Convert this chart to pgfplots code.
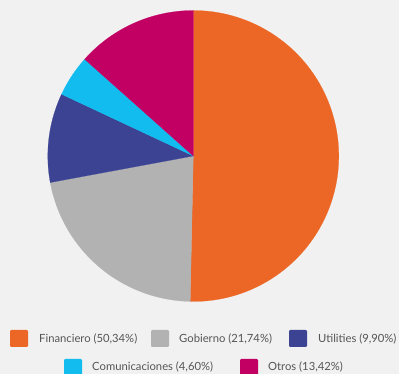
\documentclass[border=0pt]{standalone}
\usepackage{pgfplots}
\pgfplotsset{compat=1.18}
\usepackage{fontspec}
\setmainfont{Lato}
\definecolor{bg}{HTML}{F1F1F1}
\definecolor{cFin}{HTML}{EC6625}
\definecolor{cGob}{HTML}{B2B2B2}
\definecolor{cUti}{HTML}{3C4393}
\definecolor{cCom}{HTML}{12BCEE}
\definecolor{cOtr}{HTML}{C20064}
\definecolor{txt}{HTML}{555555}
% data (percent)
\def\vFin{50.34}
\def\vGob{21.74}
\def\vUti{9.90}
\def\vCom{4.60}
\def\vOtr{13.42}
\pgfmathsetmacro\aA{90}
\pgfmathsetmacro\aB{\aA-3.6*\vFin}
\pgfmathsetmacro\aC{\aB-3.6*\vGob}
\pgfmathsetmacro\aD{\aC-3.6*\vUti}
\pgfmathsetmacro\aE{\aD-3.6*\vCom}
\pgfmathsetmacro\aF{\aE-3.6*\vOtr}
\begin{document}
\begin{tikzpicture}[x=1bp,y=1bp]
\fill[bg] (0,0) rectangle (399,374);
\useasboundingbox (0,0) rectangle (399,374);
\begin{axis}[
  scale only axis, width=291bp, height=291bp,
  at={(47.8bp,72.5bp)}, anchor=south west,
  xmin=-1, xmax=1, ymin=-1, ymax=1,
  hide axis, clip=false]
\addplot[fill=cFin, draw=cFin, line width=0.2pt, domain=\aA:\aB, samples=120] ({cos(x)},{sin(x)}) -- (0,0) -- cycle;
\addplot[fill=cGob, draw=cGob, line width=0.2pt, domain=\aB:\aC, samples=60] ({cos(x)},{sin(x)}) -- (0,0) -- cycle;
\addplot[fill=cUti, draw=cUti, line width=0.2pt, domain=\aC:\aD, samples=40] ({cos(x)},{sin(x)}) -- (0,0) -- cycle;
\addplot[fill=cCom, draw=cCom, line width=0.2pt, domain=\aD:\aE, samples=20] ({cos(x)},{sin(x)}) -- (0,0) -- cycle;
\addplot[fill=cOtr, draw=cOtr, line width=0.2pt, domain=\aE:\aF, samples=40] ({cos(x)},{sin(x)}) -- (0,0) -- cycle;
\end{axis}
\tikzset{sw/.style={rounded corners=1.2bp}, lt/.style={anchor=west, text=txt, font=\fontsize{11.3}{13}\selectfont, inner sep=0pt}}
% row 1
\fill[cFin, sw] (10,27) rectangle (28,44);
\node[lt] at (39,35.5) {Financiero (50,34\%)};
\fill[cGob, sw] (151,27) rectangle (169,44);
\node[lt] at (179,35.5) {Gobierno (21,74\%)};
\fill[cUti, sw] (289,27) rectangle (307,44);
\node[lt] at (318,35.5) {Utilities (9,90\%)};
% row 2
\fill[cCom, sw] (64,-1) rectangle (82,15);
\node[lt] at (92,7) {Comunicaciones (4,60\%)};
\fill[cOtr, sw] (240,-1) rectangle (258,15);
\node[lt] at (268,7) {Otros (13,42\%)};
\end{tikzpicture}
\end{document}
